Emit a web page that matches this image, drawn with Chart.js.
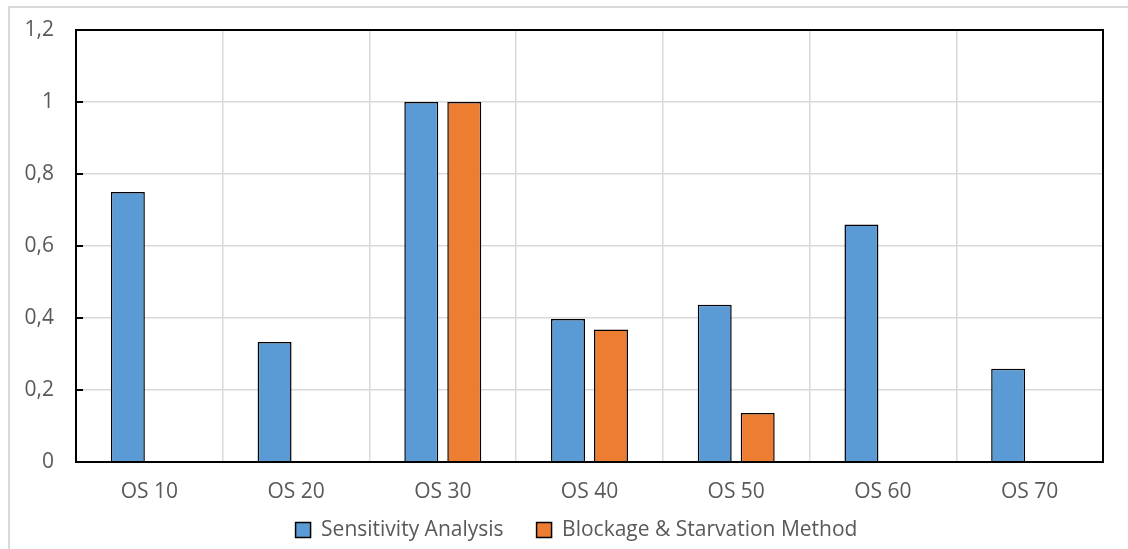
<!DOCTYPE html>
<html>
<head>
<meta charset="utf-8">
<script src="https://cdn.jsdelivr.net/npm/chart.js@4/dist/chart.umd.min.js"></script>
<style>
    body { margin: 0; background: #fff; overflow: hidden; }
    #frame {
        position: absolute; left: 8px; top: 6px;
        width: 1200px; height: 600px;
        border: 2px solid #d9d9d9;
    }
    #wrap { position: absolute; left: 0; top: 0; width: 1128px; height: 570px; }
</style>
</head>
<body>
<div id="frame"></div>
<div id="wrap"><canvas id="myChart"></canvas></div>
<script>
const categories = ["OS 10", "OS 20", "OS 30", "OS 40", "OS 50", "OS 60", "OS 70"];
const sensitivity = [0.75, 0.333, 1, 0.397, 0.437, 0.66, 0.259];
const blockage = [null, null, 1, 0.368, 0.136, null, null];
const yTicks = [0, 0.2, 0.4, 0.6, 0.8, 1, 1.2];

const labelFont = { family: "'Open Sans'", size: 21 };

// black frame round the plot area plus the short inward ticks on the value axis
const plotFrame = {
    id: 'plotFrame',
    afterDatasetsDraw(chart) {
        const ctx = chart.ctx;
        const a = chart.chartArea;
        const y = chart.scales.y;
        ctx.save();
        ctx.strokeStyle = '#000';
        ctx.lineWidth = 2;
        ctx.strokeRect(a.left, a.top, a.right - a.left, a.bottom - a.top);
        ctx.beginPath();
        yTicks.forEach(function (v) {
            const py = y.getPixelForValue(v);
            ctx.moveTo(a.left, py);
            ctx.lineTo(a.left + 7, py);
        });
        ctx.stroke();
        ctx.restore();
    }
};

// pull the legend up under the axis labels and centre it on the whole frame
const legendShift = {
    id: 'legendShift',
    afterLayout(chart) {
        const lg = chart.legend;
        lg.top -= 19.5;
        lg.bottom -= 19.5;
        lg.left += 25;
        lg.right += 25;
    }
};

new Chart("myChart", {
    type: "bar",
    data: {
        labels: categories,
        datasets: [{
            label: "Sensitivity Analysis",
            data: sensitivity,
            backgroundColor: "#5b9bd5",
            borderColor: "#000",
            borderWidth: 1.5
        }, {
            label: "Blockage & Starvation Method",
            data: blockage,
            backgroundColor: "#ed7d31",
            borderColor: "#000",
            borderWidth: 1.5
        }]
    },
    options: {
        responsive: true,
        maintainAspectRatio: false,
        animation: false,
        layout: { padding: { left: 0, right: 25, top: 30, bottom: 0 } },
        datasets: {
            bar: { categoryPercentage: 0.586, barPercentage: 0.79 }
        },
        scales: {
            x: {
                afterFit: function (scale) { scale.height = 44; },
                grid: { color: "#d9d9d9", lineWidth: 1.5, drawTicks: false },
                border: { color: "#000", width: 2 },
                ticks: {
                    color: "#595959",
                    font: labelFont,
                    padding: 17
                }
            },
            y: {
                min: 0,
                max: 1.2,
                afterFit: function (scale) {
                    scale.width = 76;
                    scale.paddingTop = 0;
                    scale.paddingBottom = 0;
                },
                afterBuildTicks: function (scale) {
                    scale.ticks = yTicks.map(function (v) { return { value: v }; });
                },
                grid: { color: "#d9d9d9", lineWidth: 1.5, drawTicks: false },
                border: { color: "#000", width: 2 },
                ticks: {
                    color: "#595959",
                    font: labelFont,
                    padding: 22,
                    callback: function (v) { return String(Math.round(v * 10) / 10).replace('.', ','); }
                }
            }
        },
        plugins: {
            legend: {
                position: "bottom",
                labels: {
                    color: "#595959",
                    font: labelFont,
                    boxWidth: 15,
                    boxHeight: 15,
                    padding: 33
                }
            },
            tooltip: { enabled: false }
        }
    },
    plugins: [plotFrame, legendShift]
});
</script>
</body>
</html>
